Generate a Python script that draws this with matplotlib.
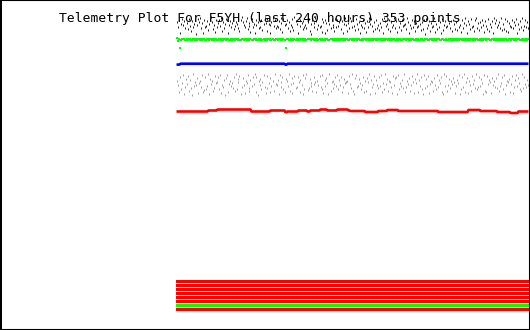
import numpy as np
import matplotlib
matplotlib.use("Agg")
import matplotlib.pyplot as plt
from matplotlib.patches import Rectangle

# ---------------- data ----------------
title = "Telemetry Plot For F5YH (last 240 hours) 353 points"
n_points = 353
hours = np.linspace(-240, 0, n_points)

# scattered channels, encoded as base-36 offsets of the plotted level
black_base = 17
black_codes = ("5a3g7284b1" "6c29e4a73h" "8251b6g3a9" "4d7205c8f3" "a6391e5b72"
               "3g84a61c95" "7b2e3058a4" "1c96f2a7g3" "85b4a3d716" "2e78g5193b"
               "9a4c61f287" "3b5e8a2d04" "7g1396c4a8" "b52e7h3a61" "4c8a92f53g"
               "6d17b3a8e2" "a3952c4g71" "8e6b14a39d" "27c5g8a3b6" "f4a1729e5c"
               "3b8d6a2g14" "97c3e5a81b" "4f2a6d3987" "c15g8b3a4e" "6a927d5c3h"
               "2b84e6a91f" "7c3a5g2d84" "a916b4e37c" "5d2a8f3b61" "8g47c2a9e3"
               "1b6d5a38f4" "9c2e7a4g16" "3a85b1d7c2" "e4f69a3b58" "2g7c4a1d93"
               "a5b")
green_base = 38
green_codes = ("062j312143" "2312432132" "4213231243" "1232142312" "3421324123"
               "2143231242" "1323412321" "4231243213" "2312423142" "3124132431"
               "232142313j" "2143231423" "1324213241" "3212432132" "4231321423"
               "2143212341" "3231421324" "1243213241" "2312432312" "4213241321"
               "3242132413" "2131423213" "4231243121" "3214232143" "1323412432"
               "2143213241" "3212432134" "2431231423" "1324213241" "4231421323"
               "2143241312" "3212432142" "4132314231" "2341232142" "3121432413"
               "242")
gray_base = 72
gray_codes = ("9dk5hb3mf7" "c4j8gn2ead" "6lb9f3ki5h" "e2m7c9jg4b" "a5h3ldf8n6"
              "3kc9ebg5j2" "h7a4mf6dl9" "b3jg8e5c2k" "5n9d7ha3fl" "g4bk6e9j2c"
              "d8m3af5hk7" "9e2jc6lb4g" "f5a8kd3mh6" "2ig7bejc5a" "k9d4f3hl8e"
              "6bm2ja9gc5" "e3h8d5kf7b" "a9l4cg2jm6" "3fe7bhd5k9" "j6a2m8fc4l"
              "8dg5e3kbh2" "c7j9afl4d6" "5m3hbe8g2k" "f9c6jd4al7" "b2k8e5hm3g"
              "7e4lc9aj6d" "h3f8b5km2e" "4jd7g9c6al" "e8b3mh5f2k" "a6l9dj4c8g"
              "2hf5e7bm3j" "k4c8al6d9f" "6g2jeb5h3m" "d9a7kc4lf8" "3e6bhj2g5c"
              "f8d")

# line channels as (level, run length)
blue_levels = [64.6, 63.7, 64.6, 63.7]
blue_runs = [4, 105, 2, 242]
red_levels = [111.5, 110.5, 109.5, 111.5, 110.5, 112.2, 111.5, 110.5, 111.5,
              110.5, 109.5, 110.5, 109.5, 110.5, 111.0, 112.0, 111.0, 110.0,
              111.0, 112.0, 110.0, 111.0, 112.0, 113.0, 111.5]
red_runs = [32, 9, 34, 19, 15, 2, 11, 9, 3, 10, 7, 10, 11, 2, 15, 13, 9, 11,
            40, 30, 12, 17, 13, 8, 11]

# status bars (top to bottom)
status_colors = ["#ff0000"] * 6 + ["#00ff00", "#ff0000"]

# ---------------- figure ----------------
black_vals = black_base + np.array([int(c, 36) for c in black_codes])
green_vals = green_base + np.array([int(c, 36) for c in green_codes]) / 2.0
gray_vals = gray_base + np.array([int(c, 36) for c in gray_codes])
blue_vals = np.repeat(blue_levels, blue_runs)
red_vals = np.repeat(red_levels, red_runs)
assert len(black_vals) == len(green_vals) == len(gray_vals) == n_points
assert len(blue_vals) == len(red_vals) == n_points

W, H = 530, 330
fig = plt.figure(figsize=(W / 100, H / 100), dpi=100)
fig.patch.set_facecolor("white")

step = 240 / (n_points - 1)
ax = fig.add_axes([176 / W, 0, 353 / W, 1])
ax.set_xlim(-240 - step / 2, step / 2)
ax.set_ylim(H, 0)
ax.axis("off")

fig.text(59 / W, 1 - 22 / H, title, family="DejaVu Sans Mono", fontsize=9.4,
         color="black", va="baseline", ha="left")

ax.plot(hours, black_vals, ls="none", marker="|", ms=1.1, mew=0.72,
        color="#202020", antialiased=False)
ax.plot(hours, green_vals, ls="none", marker="s", ms=1.45, mew=0,
        color="#00ff00", antialiased=False)
ax.plot(hours, blue_vals, color="#0000ff", lw=1.9, solid_capstyle="butt")
ax.plot(hours, gray_vals, ls="none", marker="|", ms=1.1, mew=0.72,
        color="#a0a0a0", antialiased=False)
ax.plot(hours, red_vals, color="#ff0000", lw=1.9, solid_capstyle="butt")

# status bar strip
sax = fig.add_axes([176 / W, 1 - 312 / H, 353 / W, 32 / H])
sax.set_xlim(-240 - step / 2, step / 2)
sax.set_ylim(len(status_colors) - 0.5 + 0.125, -0.5 + 0.125)
sax.barh(np.arange(len(status_colors)), 240 + step, left=-240 - step / 2,
         height=0.75, color=status_colors, linewidth=0, antialiased=False)
sax.axis("off")

fig.patches.append(Rectangle((0, 0), 1, 1, transform=fig.transFigure,
                             fill=False, edgecolor="black", lw=1.5))
fig.patches.append(Rectangle((0, 0), 1.5 / W, 1, transform=fig.transFigure,
                             fill=True, facecolor="black", lw=0))

fig.savefig("out.png", dpi=100, facecolor="white")
